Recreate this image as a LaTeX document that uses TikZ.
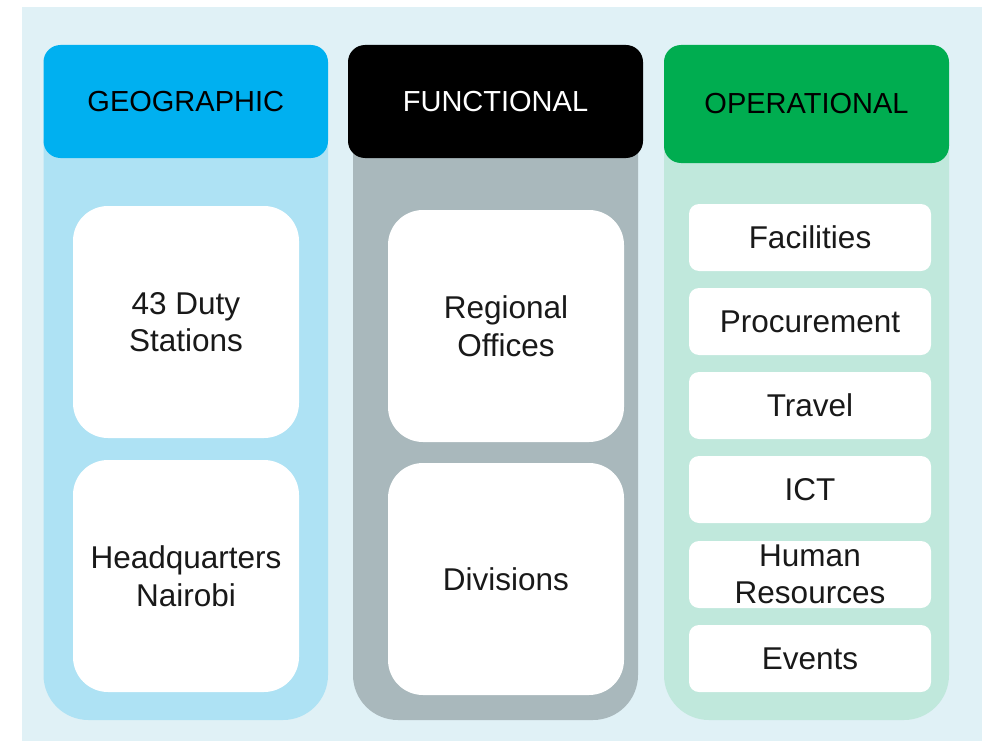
\documentclass[tikz,border=0pt]{standalone}
\usepackage{fontspec}
\setmainfont{Liberation Sans}
\usepackage{tikz}

\definecolor{pagebg}{HTML}{E0F1F6}
\definecolor{geoblue}{HTML}{00B0F0}
\definecolor{geolight}{HTML}{AEE2F4}
\definecolor{fungray}{HTML}{A9B8BC}
\definecolor{opegreen}{HTML}{00AD50}
\definecolor{opemint}{HTML}{C0E8DC}

\begin{document}
\begin{tikzpicture}[x=1pt,y=-1pt,
    every node/.style={font=\fontsize{31.5}{37.5}\selectfont, align=center, inner sep=0pt},
    header/.style={rounded corners=17pt, minimum width=#1, minimum height=113pt, font=\fontsize{29}{35}\selectfont},
    bigbox/.style={fill=white, rounded corners=35pt, minimum width=#1, minimum height=232pt, text=black!90},
    smallbox/.style={fill=white, rounded corners=10pt, minimum width=242pt, minimum height=67pt, text=black!90}]
          \useasboundingbox (0,0) rectangle (992,741);
          \fill[pagebg] (22,7) rectangle (982,741);
          % column backgrounds
          \fill[geolight, rounded corners=45pt] (43.5,100) rectangle (328,720);
          \fill[fungray, rounded corners=45pt] (353,100) rectangle (638,720);
          \fill[opemint, rounded corners=45pt] (664,100) rectangle (949,720);
          % headers
          \node[header=284.5pt, fill=geoblue] (geo) at (185.75,101.5) {GEOGRAPHIC};
          \node[header=295pt, fill=black, text=white] (fun) at (495.5,101.5) {FUNCTIONAL};
          \node[header=285pt, fill=opegreen, minimum height=118pt] (ope) at (806.5,104) {OPERATIONAL};
          % geographic
          \node[bigbox=226pt] (duty) at (186,322) {43 Duty\\Stations};
          \node[bigbox=226pt] (hq) at (186,576) {Headquarters\\Nairobi};
          % functional
          \node[bigbox=236pt] (regional) at (506,326) {Regional\\Offices};
          \node[bigbox=236pt] (divisions) at (506,579) {Divisions};
          % operational
          \node[smallbox] (facilities) at (810,237.5) {Facilities};
          \node[smallbox] (procurement) at (810,321.5) {Procurement};
          \node[smallbox] (travel) at (810,405.5) {Travel};
          \node[smallbox] (ict) at (810,489.5) {ICT};
          \node[smallbox] (hr) at (810,574.5) {Human\\Resources};
          \node[smallbox] (events) at (810,658.5) {Events};
\end{tikzpicture}
\end{document}
